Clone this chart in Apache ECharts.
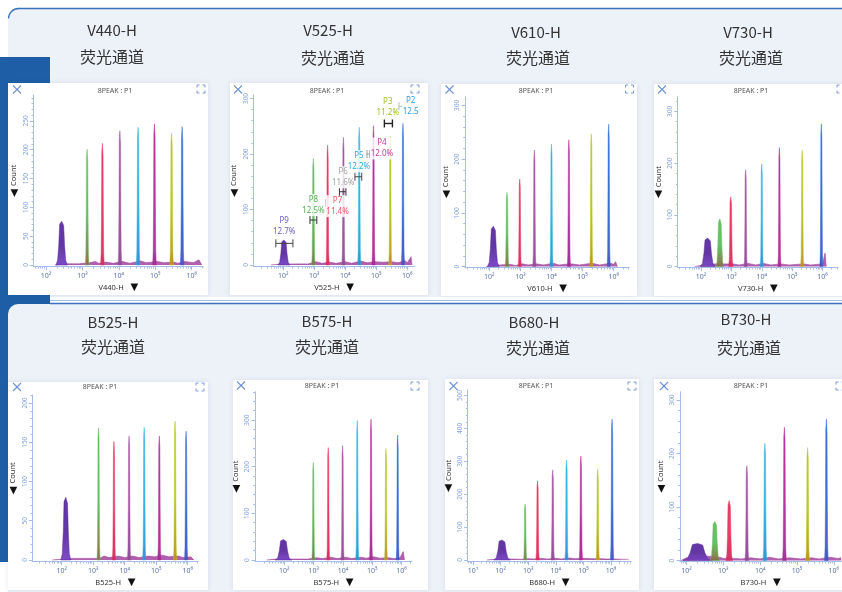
<!DOCTYPE html>
<html>
<head>
<meta charset="utf-8">
<script src="https://cdn.jsdelivr.net/npm/echarts@6/dist/echarts.min.js"></script>
<style>
html,body{margin:0;padding:0;background:#ffffff;}
#c{width:842px;height:592px;}
</style>
</head>
<body>
<div id="c"></div>
<script>
// ---------------- data ----------------
// fluorescence channels, one histogram each
const channels = ['V440-H', 'V525-H', 'V610-H', 'V730-H', 'B525-H', 'B575-H', 'B680-H', 'B730-H'];
const channelSubtitle = '荧光通道';
const plotHeader = '8PEAK : P1';

// peak centres as log10(height), peak counts and peak half-widths (decades)
// order: debris, then bead populations 1..7
const v440Pos = [2.43, 3.13, 3.55, 4.03, 4.53, 4.98, 5.45, 5.74];
const v440Count = [76, 201, 211, 233, 239, 245, 229, 240];
const v440Spread = [0.16, 0.05, 0.05, 0.05, 0.05, 0.05, 0.05, 0.05];
const v440Floor = [[2.25,0],[2.6,2],[2.9,2],[3.2,4],[3.35,6],[3.45,3],[3.65,5],[3.85,3],[4.1,6],[4.3,3],[4.6,7],[4.75,4],[5.05,6],[5.25,4],[5.5,5],[5.62,3],[5.82,6],[6.05,4],[6.2,9],[6.28,0]];

const v525Pos = [2.02, 2.97, 3.43, 3.94, 4.45, 4.91, 5.45, 5.86];
const v525Count = [45, 192, 216, 230, 248, 251, 232, 255];
const v525Spread = [0.2, 0.055, 0.05, 0.05, 0.05, 0.05, 0.05, 0.05];
const v525Floor = [[1.6,0],[1.8,1],[2.4,2],[2.8,2],[3.05,6],[3.25,3],[3.5,5],[3.7,3],[4.0,6],[4.2,3],[4.5,7],[4.7,4],[4.95,6],[5.2,5],[5.5,6],[5.7,4],[5.92,8],[6.0,4],[6.12,15],[6.15,0]];

const v610Pos = [2.13, 2.57, 2.98, 3.45, 4.0, 4.56, 5.28, 5.84];
const v610Count = [75, 138, 163, 217, 228, 236, 247, 265];
const v610Spread = [0.19, 0.06, 0.05, 0.05, 0.05, 0.05, 0.05, 0.05];
const v610Floor = [[1.9,0],[2.35,3],[2.65,4],[2.85,2],[3.05,5],[3.25,3],[3.5,5],[3.75,3],[4.05,6],[4.25,3],[4.6,5],[4.9,3],[5.3,6],[5.55,3],[5.9,6],[6.0,4],[6.06,9],[6.12,0]];

const v730Pos = [2.22, 2.62, 2.98, 3.47, 4.0, 4.58, 5.33, 5.96];
const v730Count = [55, 92, 135, 187, 198, 230, 225, 276];
const v730Spread = [0.25, 0.13, 0.07, 0.05, 0.05, 0.05, 0.05, 0.05];
const v730Floor = [[1.8,0],[2.1,3],[2.4,5],[2.75,5],[3.05,5],[3.25,3],[3.55,6],[3.8,3],[4.05,6],[4.3,3],[4.62,5],[4.9,3],[5.36,5],[5.6,3],[6.0,5],[6.08,26],[6.12,0]];

const b525Pos = [2.13, 3.17, 3.66, 4.14, 4.62, 5.10, 5.60, 5.95];
const b525Count = [80, 168, 151, 158, 169, 158, 177, 164];
const b525Spread = [0.16, 0.05, 0.05, 0.05, 0.05, 0.05, 0.05, 0.05];
const b525Floor = [[1.7,0],[2.35,2],[2.8,2],[3.2,2],[3.35,5],[3.5,3],[3.8,5],[4.0,3],[4.25,5],[4.45,3],[4.75,5],[4.95,4],[5.2,6],[5.4,4],[5.7,5],[5.85,3],[6.1,4],[6.2,0]];

const b575Pos = [1.97, 2.99, 3.50, 3.99, 4.49, 4.96, 5.47, 5.87];
const b575Count = [44, 209, 241, 245, 299, 302, 239, 268];
const b575Spread = [0.28, 0.05, 0.05, 0.05, 0.05, 0.05, 0.05, 0.05];
const b575Floor = [[1.4,0],[1.7,2],[2.3,2],[2.8,2],[3.1,5],[3.3,3],[3.6,6],[3.8,3],[4.1,6],[4.3,3],[4.6,6],[4.8,4],[5.05,7],[5.25,4],[5.55,5],[5.75,3],[5.95,5],[6.06,18],[6.1,0]];

const b680Pos = [2.05, 2.89, 3.34, 3.89, 4.39, 4.91, 5.52, 6.04];
const b680Count = [61, 170, 240, 274, 304, 316, 276, 428];
const b680Spread = [0.3, 0.06, 0.06, 0.06, 0.06, 0.06, 0.06, 0.06];
const b680Floor = [[1.5,0],[1.8,2],[2.4,3],[2.75,2],[3.0,4],[3.2,3],[3.45,5],[3.7,3],[4.0,5],[4.2,3],[4.5,6],[4.7,4],[5.0,5],[5.3,4],[5.6,4],[5.85,3],[6.1,3],[6.6,2],[6.65,0]];

const b730Pos = [2.30, 2.77, 3.16, 3.64, 4.13, 4.66, 5.29, 5.80];
const b730Count = [32, 73, 112, 177, 219, 249, 211, 264];
const b730Spread = [0.4, 0.13, 0.09, 0.05, 0.05, 0.05, 0.05, 0.05];
const b730Floor = [[1.85,0],[2.0,5],[2.6,8],[2.9,6],[3.0,4],[3.3,4],[3.5,3],[3.75,5],[4.0,3],[4.25,6],[4.5,3],[4.8,5],[5.1,3],[5.4,5],[5.6,3],[5.9,6],[6.1,4],[6.2,5]];

// axis tick labels
const decadeTicks = [2, 3, 4, 5, 6];
const decadeTicksB680 = [1, 2, 3, 4, 5, 6];
const v440YTicks = [0, 50, 100, 150, 200, 250];
const v525YTicks = [0, 100, 200, 300];
const v610YTicks = [0, 100, 200, 300];
const v730YTicks = [0, 100, 200, 300];
const b525YTicks = [0, 50, 100, 150, 200];
const b575YTicks = [0, 100, 200, 300];
const b680YTicks = [0, 100, 200, 300, 400, 500];
const b730YTicks = [0, 100, 200, 300];

// gates drawn on the V525-H histogram
const v525Gates = ['P9', 'P8', 'P7', 'P6', 'P5', 'P4', 'P3', 'P2'];
const v525GatePct = ['12.7%', '12.5%', '11.4%', '11.6%', '12.2%', '12.0%', '11.2%', '12.5'];
const v525GateLabel = [[2.03,70],[2.97,108],[3.75,106],[3.93,158],[4.44,187],[5.18,210],[5.37,285],[6.11,286]];
const v525GateRange = [[1.76,2.31,39],[2.86,3.08,81],[3.36,3.44,112],[3.81,4.02,132],[4.31,4.53,159],[4.70,4.78,200],[5.26,5.52,255],[5.73,5.90,286]];

// ---------------- styles & layout ----------------
const peakTop  = ['#5b2c9e', '#5cbf5a', '#e8325e', '#a2519f', '#2db3e3', '#b52c9c', '#b5c61e', '#2e6bd4'];
const peakBase = ['#7742c4', '#8a6d44', '#d72a5e', '#8c4a96', '#2f8fd0', '#a02a92', '#c48a25', '#4a4fc0'];
const gateText = ['#6f5fc0', '#55b055', '#ee5566', '#a0a0a0', '#30a8e0', '#c03aa0', '#a0c020', '#2ea0e8'];
const gateBracket = ['#444', '#333', '#999', '#333', '#444', '#999', '#222', '#bbb'];
const axisBlue = '#a6bdea';
const SUP = ['⁰', '¹', '²', '³', '⁴', '⁵', '⁶'];
// outline of one histogram peak: [offset in half-widths, fraction of peak count]
const PEAK_PROFILE = [[-1,0],[-0.7,0.1],[-0.5,0.45],[-0.35,0.93],[0,1],[0.35,0.9],[0.5,0.45],[0.7,0.1],[1,0]];

const panelLayout = [
  {box:[8,83,200,212],  grid:[33.3,95,170,171.7],   xr:[1.651,6.321], yr:[-2.95,295],  title:[112,30],  sub:[112,57],  head:[115,90.5], close:[17,89.5],  expand:[201,89]},
  {box:[230,83,198,212],grid:[253.3,95,161.7,171.7],xr:[1.032,6.248], yr:[-3.06,306.3],title:[328,30],  sub:[333,58],  head:[327,90.5], close:[238,89.5], expand:[415,89]},
  {box:[441,84,196,212],grid:[465,96.7,164.3,171],  xr:[1.219,6.502], yr:[-2.2,316.2], title:[536,32],  sub:[538,58],  head:[536,90.5], close:[449.5,89.5],expand:[629.5,89]},
  {box:[654,84,200,212],grid:[677.7,96.7,160.3,171],xr:[1.234,6.507], yr:[-2.3,328.4], title:[748,32],  sub:[751,58],  head:[751,90.5], close:[662,89.5], expand:[841,89]},
  {box:[8,382,200,208], grid:[32.3,395,166,166.7],  xr:[1.067,6.337], yr:[-2.2,210.2], title:[113,322], sub:[113,347], head:[100,386.5],close:[17,387],   expand:[200,387]},
  {box:[233,380,195,210],grid:[255,391.7,157,170],  xr:[1.0,6.358],   yr:[-3.6,360.8], title:[327,321], sub:[327,347], head:[322,386],  close:[241,385.5],expand:[415,386]},
  {box:[445,379,194,211],grid:[467.7,390,163.3,171.7],xr:[0.808,6.725],yr:[-5.2,516.7],title:[534,322], sub:[538,348], head:[536,386],  close:[453.5,386],expand:[632,386]},
  {box:[654,379,200,211],grid:[680,391.7,162,170],  xr:[1.824,6.203], yr:[-2.2,315.5], title:[746,319], sub:[749,348], head:[751,386],  close:[664,386],  expand:[840,386]}
];

const panels = [
  {pos:v440Pos, count:v440Count, spread:v440Spread, floor:v440Floor, yTicks:v440YTicks, xTicks:decadeTicks},
  {pos:v525Pos, count:v525Count, spread:v525Spread, floor:v525Floor, yTicks:v525YTicks, xTicks:decadeTicks},
  {pos:v610Pos, count:v610Count, spread:v610Spread, floor:v610Floor, yTicks:v610YTicks, xTicks:decadeTicks},
  {pos:v730Pos, count:v730Count, spread:v730Spread, floor:v730Floor, yTicks:v730YTicks, xTicks:decadeTicks},
  {pos:b525Pos, count:b525Count, spread:b525Spread, floor:b525Floor, yTicks:b525YTicks, xTicks:decadeTicks},
  {pos:b575Pos, count:b575Count, spread:b575Spread, floor:b575Floor, yTicks:b575YTicks, xTicks:decadeTicks},
  {pos:b680Pos, count:b680Count, spread:b680Spread, floor:b680Floor, yTicks:b680YTicks, xTicks:decadeTicksB680},
  {pos:b730Pos, count:b730Count, spread:b730Spread, floor:b730Floor, yTicks:b730YTicks, xTicks:decadeTicks}
];

// ---------------- renderers ----------------
function peakRenderer(params, api) {
  const c = api.value(0), h = api.value(1), s = api.value(2), k = api.value(3);
  const pts = PEAK_PROFILE.map(p => api.coord([c + p[0] * s, h * p[1]]));
  return {
    type: 'polygon',
    shape: {points: pts},
    style: {
      fill: new echarts.graphic.LinearGradient(0, 0, 0, 1, [
        {offset: 0, color: peakTop[k]}, {offset: 0.55, color: peakTop[k]}, {offset: 1, color: peakBase[k]}
      ]),
      stroke: peakTop[k], lineWidth: 0.5, opacity: 0.95
    }
  };
}

function gateRenderer(params, api) {
  const i = params.dataIndex;
  const r = v525GateRange[i];
  const a = api.coord([r[0], r[2]]);
  const b = api.coord([r[1], r[2]]);
  const lp = api.coord(v525GateLabel[i]);
  const bc = gateBracket[i];
  const lw = i === 6 ? 1.4 : 1;
  return {
    type: 'group',
    children: [
      {type:'line', shape:{x1:a[0], y1:a[1], x2:b[0], y2:b[1]}, style:{stroke:bc, lineWidth:lw}},
      {type:'line', shape:{x1:a[0], y1:a[1]-4, x2:a[0], y2:a[1]+4}, style:{stroke:bc, lineWidth:lw}},
      {type:'line', shape:{x1:b[0], y1:b[1]-4, x2:b[0], y2:b[1]+4}, style:{stroke:bc, lineWidth:lw}},
      {type:'text', x: lp[0], y: lp[1], style:{
        text: v525Gates[i] + '\n' + v525GatePct[i], fill: gateText[i],
        font: '8px "Noto Sans"', align:'center', verticalAlign:'middle',
        textAlign:'center', textVerticalAlign:'middle', lineHeight: 11,
        backgroundColor: 'rgba(255,255,255,0.82)', padding: [0, 1]
      }}
    ]
  };
}

// ---------------- option ----------------
const grid = [], xAxis = [], yAxis = [], series = [];
const bg = [];

// cards and side band
bg.push({type:'rect', z:-10, shape:{x:8, y:8, width:850, height:289, r:10}, style:{fill:'#edf1f8'}});
bg.push({type:'line', z:-10, shape:{x1:18, y1:8.5, x2:842, y2:8.5}, style:{stroke:'#3a72bd', lineWidth:1.3}});
bg.push({type:'arc', z:-10, shape:{cx:18.5, cy:18.5, r:10, startAngle:Math.PI, endAngle:Math.PI*1.5}, style:{stroke:'#3a72bd', lineWidth:1.3, fill:'none'}});
bg.push({type:'rect', z:-9, shape:{x:0, y:57, width:50, height:505}, style:{fill:'#1d5ea6'}});
bg.push({type:'line', z:-9, shape:{x1:50, y1:300.5, x2:842, y2:300.5}, style:{stroke:'#8fb0dd', lineWidth:0.8}});
bg.push({type:'rect', z:-8, shape:{x:8, y:304, width:850, height:300, r:10}, style:{fill:'#edf1f8'}});
bg.push({type:'line', z:-8, shape:{x1:50, y1:303.5, x2:842, y2:303.5}, style:{stroke:'#3a72bd', lineWidth:1.4}});

panels.forEach((p, i) => {
  const L = panelLayout[i];
  grid.push({left: L.grid[0], top: L.grid[1], width: L.grid[2], height: L.grid[3]});

  const minorX = [];
  for (let d = Math.floor(L.xr[0]); d <= Math.ceil(L.xr[1]); d++) {
    for (let k = 2; k <= 9; k++) {
      const v = d + Math.log10(k);
      if (v > L.xr[0] && v < L.xr[1]) minorX.push(v);
    }
  }
  const step = (p.yTicks[1] - p.yTicks[0]) / 5;
  const minorY = [];
  for (let v = 0; v < L.yr[1]; v += step) minorY.push(v);

  xAxis.push({
    gridIndex: i, type: 'value', position: 'bottom', min: L.xr[0], max: L.xr[1],
    axisLine: {show: true, onZero: false, lineStyle: {color: axisBlue, width: 1}},
    axisTick: {show: true, customValues: p.xTicks, length: 3.5, lineStyle: {color: axisBlue}},
    axisLabel: {show: true, customValues: p.xTicks, formatter: v => '10' + SUP[Math.round(v)],
      fontSize: 7, color: '#5c72a8', margin: 6, fontFamily: 'Noto Sans'},
    splitLine: {show: false},
    name: '{t|' + channels[i] + '}  {a|▼}', nameLocation: 'middle', nameGap: 15,
    nameTextStyle: {rich: {
      t: {fontSize: 7.5, color: '#333', fontFamily: 'Noto Sans'},
      a: {fontSize: 10, color: '#111', fontFamily: 'DejaVu Sans'}
    }}
  });
  xAxis.push({
    gridIndex: i, type: 'value', position: 'bottom', min: L.xr[0], max: L.xr[1],
    axisLine: {show: false, onZero: false},
    axisTick: {show: true, customValues: minorX, length: 1.8, lineStyle: {color: axisBlue}},
    axisLabel: {show: false}, splitLine: {show: false}
  });
  yAxis.push({
    gridIndex: i, type: 'value', position: 'left', min: L.yr[0], max: L.yr[1],
    axisLine: {show: true, onZero: false, lineStyle: {color: axisBlue, width: 1}},
    axisTick: {show: true, customValues: p.yTicks, length: 3.5, lineStyle: {color: axisBlue}},
    axisLabel: {show: true, customValues: p.yTicks, rotate: 90, fontSize: 6.5, color: '#86a2df',
      margin: 4, fontFamily: 'Noto Sans'},
    splitLine: {show: false},
    name: '{a|◀} {t|Count}', nameLocation: 'middle', nameGap: 13,
    nameTextStyle: {rich: {
      t: {fontSize: 7.5, color: '#333', fontFamily: 'Noto Sans'},
      a: {fontSize: 10, color: '#111', fontFamily: 'DejaVu Sans'}
    }}
  });
  yAxis.push({
    gridIndex: i, type: 'value', position: 'left', min: L.yr[0], max: L.yr[1],
    axisLine: {show: false, onZero: false},
    axisTick: {show: true, customValues: minorY, length: 1.8, lineStyle: {color: axisBlue}},
    axisLabel: {show: false}, splitLine: {show: false}
  });

  series.push({
    type: 'line', xAxisIndex: 2 * i, yAxisIndex: 2 * i, data: p.floor, symbol: 'none',
    lineStyle: {width: 0.6, color: '#a2449e'}, areaStyle: {color: '#a2449e', opacity: 0.85},
    silent: true, z: 2
  });
  series.push({
    type: 'custom', xAxisIndex: 2 * i, yAxisIndex: 2 * i, renderItem: peakRenderer,
    data: p.pos.map((x, k) => [x, p.count[k], p.spread[k], k]), z: 3, silent: true
  });

  // panel card, header, icons, titles
  bg.push({type:'rect', z:-7, shape:{x:L.box[0], y:L.box[1], width:L.box[2], height:L.box[3]},
    style:{fill:'#ffffff', shadowBlur:5, shadowColor:'rgba(60,80,120,0.12)'}});
  bg.push({type:'text', z:5, x:L.title[0], y:L.title[1], style:{text:channels[i], fill:'#333',
    font:'15px "Noto Sans CJK SC"', textAlign:'center', textVerticalAlign:'middle'}});
  bg.push({type:'text', z:5, x:L.sub[0], y:L.sub[1], style:{text:channelSubtitle, fill:'#333',
    font:'16px "Noto Sans CJK SC"', textAlign:'center', textVerticalAlign:'middle'}});
  bg.push({type:'text', z:5, x:L.head[0], y:L.head[1], style:{text:plotHeader, fill:'#555',
    font:'7px "Noto Sans"', textAlign:'center', textVerticalAlign:'middle'}});
  const cx = L.close[0], cy = L.close[1];
  bg.push({type:'line', z:5, shape:{x1:cx-4, y1:cy-4, x2:cx+4, y2:cy+4}, style:{stroke:'#6f90d6', lineWidth:1.1}});
  bg.push({type:'line', z:5, shape:{x1:cx-4, y1:cy+4, x2:cx+4, y2:cy-4}, style:{stroke:'#6f90d6', lineWidth:1.1}});
  const ex = L.expand[0], ey = L.expand[1];
  [[-1,-1],[1,-1],[-1,1],[1,1]].forEach(([sx, sy]) => {
    bg.push({type:'polyline', z:5, shape:{points:[[ex+sx*4, ey+sy*1.5],[ex+sx*4, ey+sy*4],[ex+sx*1.5, ey+sy*4]]},
      style:{stroke:'#7b9ad8', lineWidth:1, fill:'none'}});
  });
});

series.push({
  type: 'custom', xAxisIndex: 2, yAxisIndex: 2, renderItem: gateRenderer,
  data: v525GateLabel.map(v => v.slice()), z: 6, silent: true
});

const chart = echarts.init(document.getElementById('c'), null, {renderer: 'canvas', width: 842, height: 592});
chart.setOption({
  animation: false,
  backgroundColor: '#ffffff',
  graphic: {elements: bg},
  grid, xAxis, yAxis, series
});
</script>
</body>
</html>
